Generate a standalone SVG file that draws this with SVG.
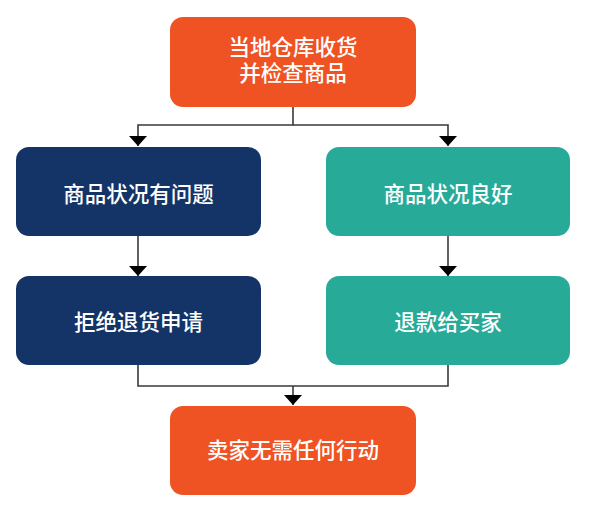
<svg xmlns="http://www.w3.org/2000/svg" width="594" height="513" viewBox="0 0 594 513">
<defs>
<style>
.orange{fill:#EF5323}
.navy{fill:#143468}
.teal{fill:#27AA98}
.lbl{font-family:"Liberation Sans","Noto Sans CJK SC",sans-serif;font-size:21.5px;font-weight:500;fill:#ffffff;text-anchor:middle;dominant-baseline:central}
.conn{fill:none;stroke:#3a3a3a;stroke-width:1.6}
</style>
<marker id="arr" viewBox="0 0 10 18" refX="10" refY="9" markerWidth="10" markerHeight="18" markerUnits="userSpaceOnUse" orient="auto">
<path d="M0,0 L10,9 L0,18 Z" fill="#000"/>
</marker>
</defs>
<rect width="594" height="513" fill="#ffffff"/>
<g id="connectors">
<path class="conn" d="M293,107 V125 H138 V146" marker-end="url(#arr)"/>
<path class="conn" d="M293,125 H448 V146"  marker-end="url(#arr)"/>
<path class="conn" d="M138,236 V276" marker-end="url(#arr)"/>
<path class="conn" d="M448,236 V276" marker-end="url(#arr)"/>
<path class="conn" d="M138,365 V386 H448 V365"/>
<path class="conn" d="M293,386 V405" marker-end="url(#arr)"/>
</g>
<g id="n1">
<rect class="orange" x="170" y="17" width="246" height="90" rx="13"/>
<text class="lbl" x="293" y="48">当地仓库收货</text>
<text class="lbl" x="293" y="74">并检查商品</text>
</g>
<g id="n2">
<rect class="navy" x="16" y="147" width="245" height="89" rx="13"/>
<text class="lbl" x="138.5" y="195">商品状况有问题</text>
</g>
<g id="n3">
<rect class="teal" x="326" y="147" width="244" height="89" rx="13"/>
<text class="lbl" x="448" y="195">商品状况良好</text>
</g>
<g id="n4">
<rect class="navy" x="16" y="276" width="245" height="89" rx="13"/>
<text class="lbl" x="138.5" y="323">拒绝退货申请</text>
</g>
<g id="n5">
<rect class="teal" x="326" y="276" width="244" height="89" rx="13"/>
<text class="lbl" x="448" y="323">退款给买家</text>
</g>
<g id="n6">
<rect class="orange" x="170" y="406" width="246" height="89" rx="13"/>
<text class="lbl" x="293" y="451">卖家无需任何行动</text>
</g>
</svg>
